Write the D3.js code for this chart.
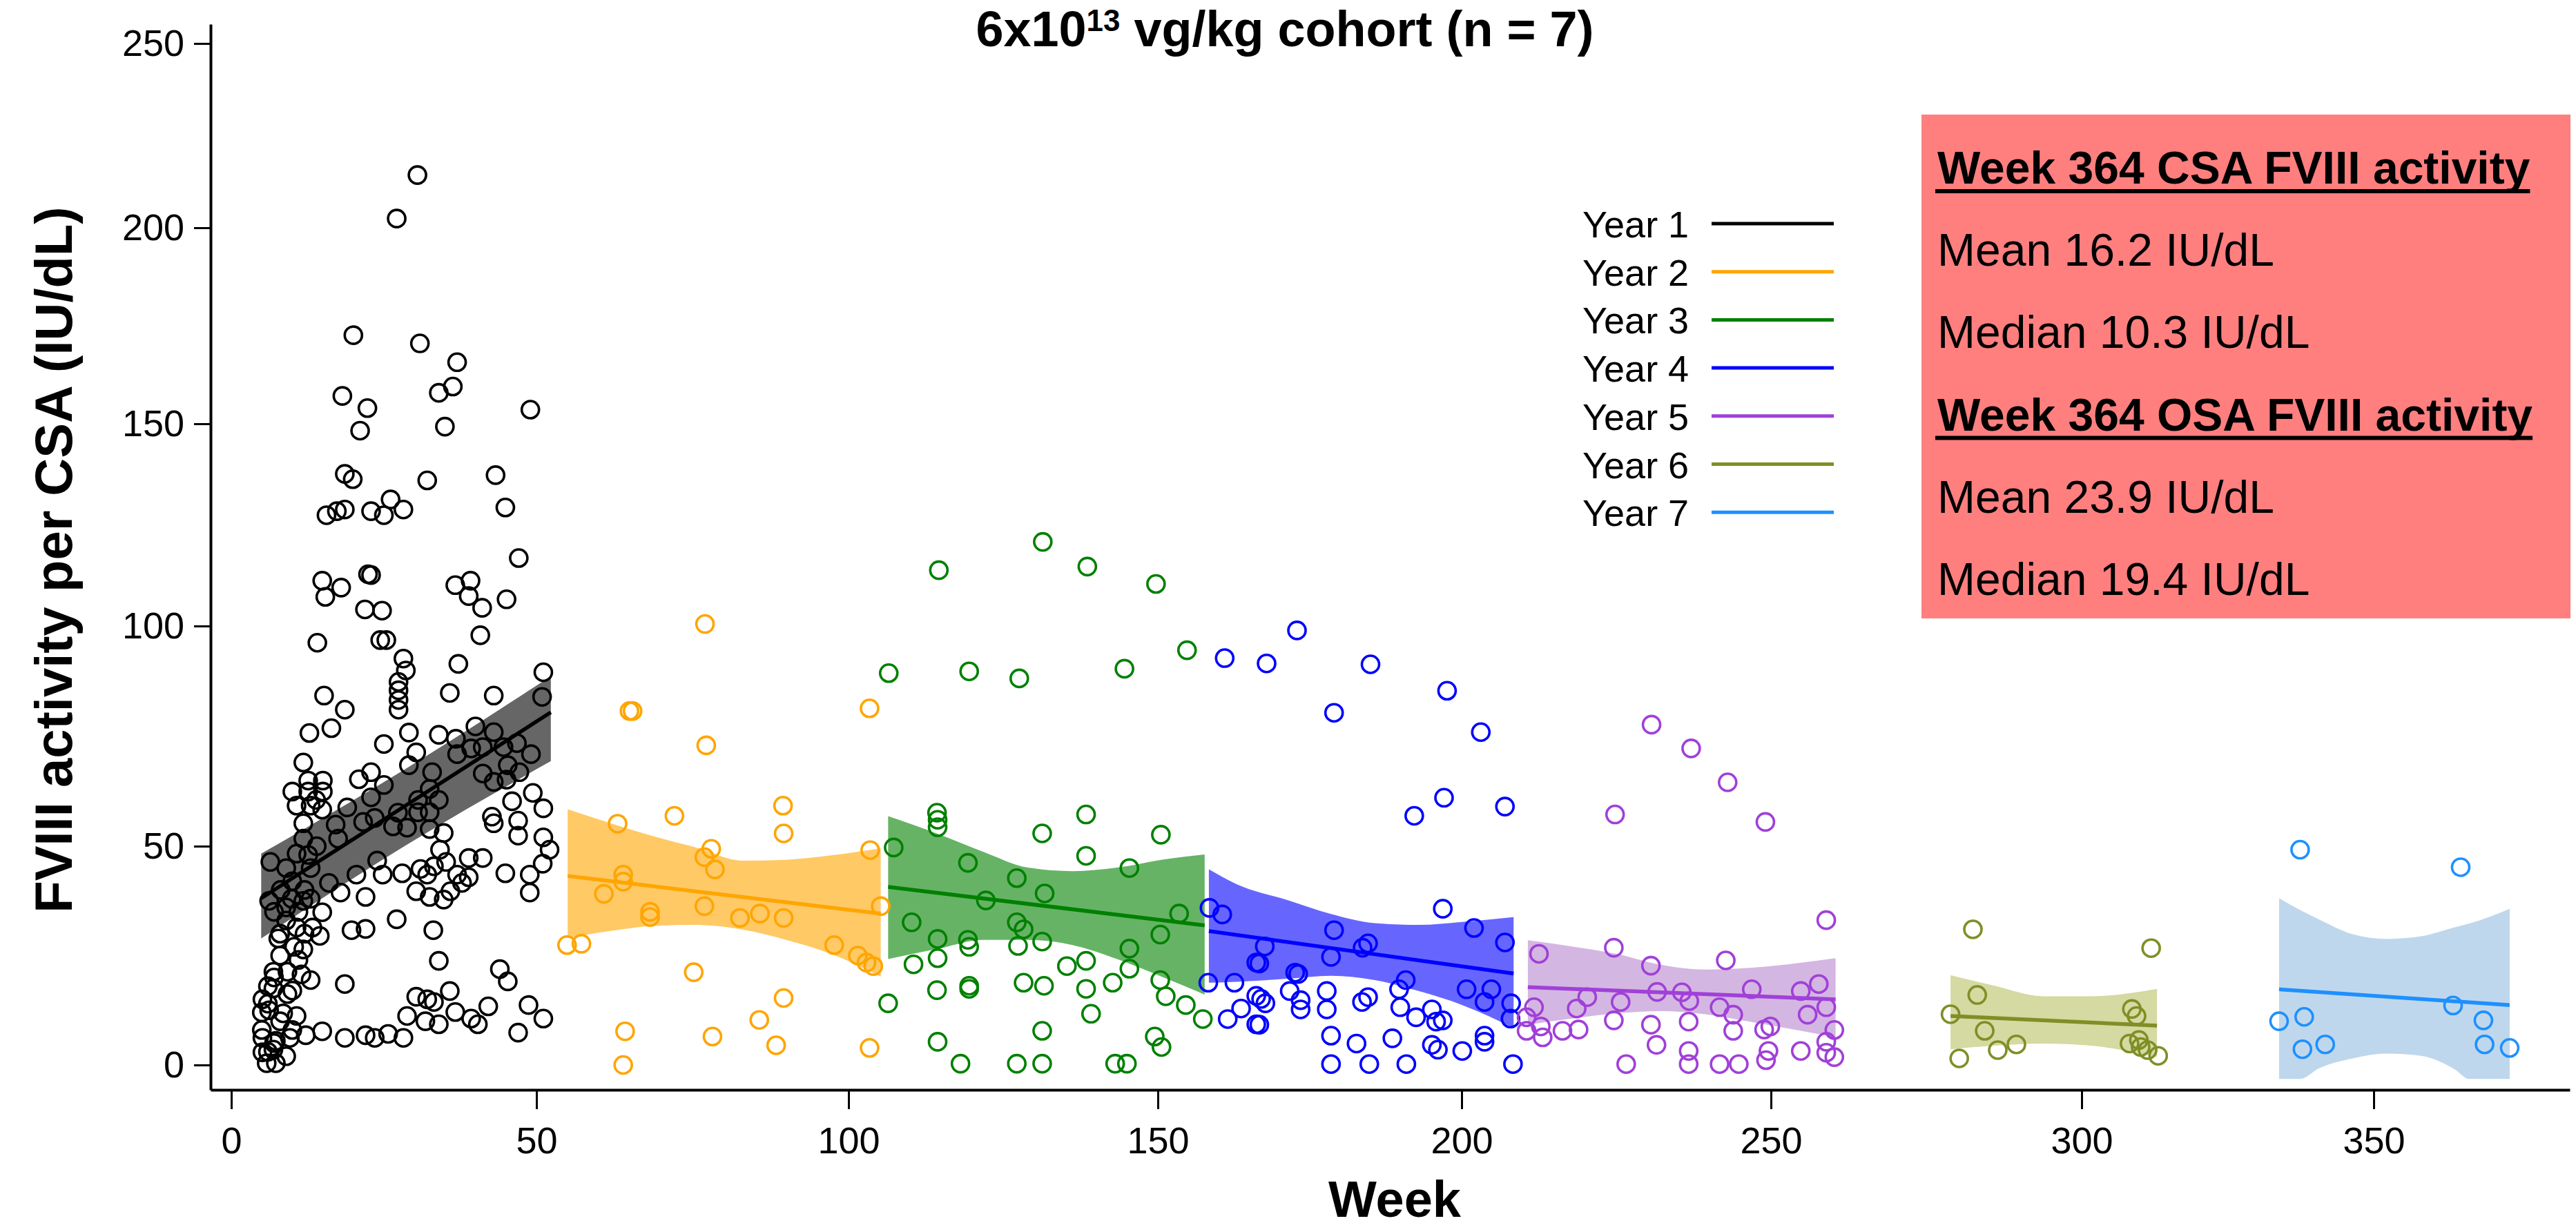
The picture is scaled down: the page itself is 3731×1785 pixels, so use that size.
<!DOCTYPE html>
<html>
<head>
<meta charset="utf-8">
<script src="https://cdn.jsdelivr.net/npm/d3@7"></script>
<style>
  body { margin: 0; background: #fff; }
  text { font-family: "Liberation Sans", Arial, sans-serif; }
</style>
</head>
<body>
<div class="chart"></div>
<script>
// legend / categories
const years = ["Year 1", "Year 2", "Year 3", "Year 4", "Year 5", "Year 6", "Year 7"];
const yearColors = ["#000000", "#FFA500", "#008000", "#0000FF", "#A040D8", "#7F8F25", "#1E90FF"];
const bandColors = ["#666666", "#FFC966", "#66B366", "#6666FF", "#D4B6E2", "#D5D9A2", "#BFD7EC"];

const xTicks = [0, 50, 100, 150, 200, 250, 300, 350];
const yTicks = [0, 50, 100, 150, 200, 250];

// [week, FVIII activity IU/dL]
const year1 = [
  [30.5,214.3],[27.1,202.5],[20.0,172.6],[30.9,170.5],[37.0,165.7],[34.0,157.9],[36.3,159.5],[18.2,157.1],
  [22.3,154.0],[21.1,148.3],[49.0,153.6],[35.0,149.3],[18.6,137.6],[19.9,136.3],[32.1,136.0],[43.3,137.3],
  [15.6,127.4],[17.3,128.4],[18.6,128.8],[22.9,128.4],[25.0,127.4],[26.1,131.3],[28.2,128.8],[44.9,129.3],
  [47.1,116.8],[14.9,111.2],[15.4,107.2],[18.0,109.5],[22.4,112.8],[22.9,112.6],[21.9,104.1],[24.7,103.8],
  [36.7,110.1],[39.2,111.2],[38.9,107.4],[41.1,104.5],[45.1,106.6],[14.1,96.2],[24.4,96.8],[25.4,96.8],
  [28.2,92.6],[28.6,89.9],[40.8,97.9],[37.2,91.4],[51.1,89.5],
  [27.4,87.3],[27.4,85.4],[27.4,83.2],[27.4,81.0],[15.2,84.2],[18.6,81.0],[12.8,75.7],[16.4,76.8],
  [35.8,84.8],[43.0,84.2],[50.9,83.9],[25.0,73.2],[29.1,75.8],[30.3,71.3],[29.1,68.4],[34.0,75.3],
  [36.8,74.4],[40.0,77.2],[43.0,75.9],[11.8,69.0],[37.0,70.9],[39.3,72.2],[41.2,72.5],[44.6,72.5],
  [46.8,73.4],[49.1,70.9],[32.9,66.8],[41.2,66.5],[43.0,64.6],[45.3,68.4],[45.1,65.1],[47.2,66.8],
  [12.6,64.9],[15.0,64.9],[10.0,62.4],[12.6,62.4],[15.0,62.4],[10.7,59.2],[13.0,59.2],[14.9,58.3],
  [13.9,60.5],[20.9,65.2],[22.9,66.8],[25.0,63.9],[22.9,61.1],[19.0,58.8],[11.8,55.2],[11.8,51.7],
  [17.1,54.9],[17.5,51.7],[6.4,46.4],[10.7,48.3],[12.6,48.0],[21.6,55.5],[23.5,56.4],[26.5,54.5],
  [28.8,54.2],[27.3,57.6],[30.6,60.5],[32.5,63.0],[34.0,60.5],[32.5,57.7],[30.6,57.7],[32.5,53.9],
  [34.8,53.0],[34.2,49.2],[42.7,56.7],[43.0,55.2],[46.0,60.2],[49.4,62.1],[51.1,58.6],[47.0,55.8],
  [47.0,52.4],[51.1,52.0],[52.1,49.2],[23.9,46.7],[24.8,43.5],[28.0,43.8],[31.0,44.8],[32.1,43.5],
  [33.2,45.4],[35.2,46.4],[30.3,39.7],[32.5,38.4],[34.8,37.8],[35.9,39.7],[37.8,41.6],[38.9,42.9],
  [38.9,47.3],[41.2,47.3],[37.0,43.5],[16.0,41.6],[17.9,39.4],[20.5,43.5],[22.0,38.4],[7.7,28.9],
  [14.9,34.9],[10.7,31.4],[13.3,31.4],[14.5,29.5],[10.3,27.0],[11.8,26.4],[19.7,30.8],[22.0,31.1],
  [27.1,33.3],[33.1,30.8],[44.9,43.8],[48.9,43.5],[48.9,39.4],[51.0,46.0],[34.0,23.8],[18.6,18.5],
  [44.0,21.9],[45.3,19.1],[6.9,21.3],[9.2,21.3],[11.5,20.7],[13.0,19.4],[5.1,15.0],[6.9,17.5],
  [9.2,16.2],[6.2,12.5],[8.5,11.8],[10.7,11.2],[30.3,15.6],[32.1,15.0],[33.2,14.4],[35.8,16.9],
  [28.8,11.2],[31.8,10.0],[34.0,9.3],[36.7,12.1],[39.3,10.6],[40.4,9.3],[42.1,13.4],[48.7,13.7],
  [51.1,10.6],[47.0,7.4],[5.1,6.2],[7.3,5.5],[9.6,6.2],[12.2,6.8],[14.9,7.7],[18.6,6.2],
  [22.0,6.8],[23.5,6.2],[25.7,7.1],[28.2,6.2],[5.1,2.9],[6.9,3.5],[5.8,0.4],[7.3,0.4],
  [8.1,40.0],[9.9,38.0],[6.2,37.5],[11.8,37.5],[9.0,36.0],[5.0,8.0],[6.0,14.0],[7.0,20.0],
  [8.0,25.0],[9.0,33.0],[10.0,42.0],[7.0,35.0],[9.0,45.0],[12.0,40.0],[5.0,12.0],[6.0,3.0],
  [8.0,10.0],[10.0,17.0],[11.0,24.0],[12.0,30.0],[7.0,5.0],[9.0,2.0],[10.0,8.0],[6.0,18.0],
  [8.0,30.0],[11.0,35.0],[13.0,45.0],[14.0,50.0],[13.0,38.0]
];
const year2 = [
  [77.0,100.5],[64.9,80.7],[65.4,80.7],[103.4,81.3],[77.2,72.9],[63.0,55.1],[72.1,56.9],[89.5,59.2],
  [89.6,52.9],[78.0,49.4],[76.9,47.5],[78.6,44.7],[103.5,49.1],[63.9,43.5],[63.9,41.9],[60.8,39.1],
  [68.2,35.0],[68.2,33.8],[76.9,36.3],[82.6,33.6],[85.8,34.6],[89.6,33.6],[105.2,36.3],[57.2,27.7],
  [54.9,27.4],[97.7,27.4],[101.5,25.0],[102.9,23.4],[104.0,22.6],[75.2,21.2],[89.6,15.3],[85.7,10.3],
  [64.2,7.7],[78.2,6.5],[88.4,4.5],[103.4,3.9],[63.9,0.0]
];
const year3 = [
  [131.4,120.8],[114.6,113.8],[138.6,114.7],[149.7,110.4],[106.5,89.3],[119.5,89.7],[127.6,88.1],[144.6,90.3],
  [154.8,94.5],[114.3,57.6],[114.4,56.0],[114.4,54.3],[138.4,57.2],[131.3,52.9],[150.5,52.6],[107.3,49.7],
  [138.4,47.8],[119.3,46.2],[145.4,45.0],[127.2,42.7],[131.7,39.2],[122.2,37.6],[153.5,34.6],[110.2,32.6],
  [127.2,32.6],[128.3,31.0],[150.4,29.8],[114.4,28.8],[119.3,28.6],[119.5,27.0],[127.4,27.2],[131.3,28.2],
  [145.4,26.6],[110.5,23.0],[114.4,24.4],[135.3,22.6],[138.4,23.8],[145.4,22.0],[142.7,18.8],[114.3,17.1],
  [119.5,18.1],[119.5,17.4],[128.3,18.8],[131.6,18.1],[138.4,17.4],[150.4,19.4],[151.3,15.7],[154.6,13.7],
  [157.4,10.5],[106.4,14.1],[139.2,11.7],[114.4,5.3],[131.3,7.8],[149.5,6.5],[150.6,4.1],[118.1,0.3],
  [127.2,0.3],[131.3,0.3],[143.1,0.3],[145.0,0.3]
];
const year4 = [
  [172.9,99.0],[167.9,91.5],[185.0,91.3],[197.6,85.3],[179.0,80.3],[203.1,75.9],[197.1,61.0],[192.2,56.9],
  [207.0,59.0],[196.9,35.7],[202.0,31.3],[179.0,30.8],[207.0,28.0],[167.6,27.1],[166.7,23.2],[184.6,27.8],
  [183.7,26.8],[178.5,24.7],[172.6,21.1],[173.1,20.8],[190.8,19.4],[200.8,17.3],[204.8,17.3],[203.7,14.4],
  [208.0,14.1],[207.9,10.6],[167.0,15.1],[167.7,14.1],[171.7,16.9],[173.5,14.8],[173.5,12.7],[177.8,16.9],
  [177.8,12.7],[184.6,15.5],[183.6,14.4],[189.7,17.3],[189.9,13.2],[192.5,10.9],[195.1,12.7],[195.8,9.9],
  [196.9,10.2],[166.7,9.2],[178.5,6.7],[182.7,4.9],[188.6,6.1],[195.1,4.6],[196.1,3.5],[200.1,3.2],
  [203.7,6.7],[203.7,5.3],[178.5,0.2],[184.8,0.2],[190.9,0.2],[208.3,0.2],[161.0,92.7],[158.5,35.9],
  [160.6,34.4],[158.3,18.8],[162.6,18.8],[161.5,10.5],[163.7,12.9],[166.2,9.3],[166.2,15.8],[166.2,23.4]
];
const year5 = [
  [230.7,77.6],[237.1,72.2],[243.0,64.5],[224.8,57.2],[249.1,55.5],[258.9,33.1],[212.5,25.4],[224.6,26.8],
  [230.6,22.7],[242.7,23.9],[220.3,15.5],[218.6,12.9],[225.7,14.4],[231.6,16.7],[235.6,16.6],[236.8,14.6],
  [241.7,13.2],[243.9,11.5],[246.9,17.3],[254.8,16.9],[257.7,18.5],[258.9,13.2],[255.9,11.5],[211.7,13.2],
  [210.5,10.9],[210.5,7.8],[212.8,8.8],[213.1,6.3],[216.3,7.8],[218.9,8.1],[224.6,10.2],[230.6,9.2],
  [236.7,9.9],[243.9,7.8],[248.9,8.1],[249.9,8.8],[260.2,8.0],[231.5,4.6],[236.7,3.2],[249.6,3.2],
  [254.8,3.2],[258.9,5.3],[258.9,2.8],[260.2,1.8],[226.6,0.2],[236.7,0.2],[241.7,0.2],[244.8,0.2],
  [249.2,1.1]
];
const year6 = [
  [282.5,31.0],[311.9,26.7],[283.2,16.0],[278.9,11.6],[308.6,12.8],[309.4,11.2],[284.4,7.8],[289.5,4.7],
  [286.5,3.4],[280.3,1.5],[308.2,4.9],[309.8,5.7],[310.1,4.1],[311.3,3.4],[313.1,2.1]
];
const year7 = [
  [337.4,49.2],[364.9,45.2],[333.8,10.0],[338.1,11.0],[337.8,3.6],[341.7,4.7],[363.6,13.6],[368.8,10.2],
  [369.0,4.7],[373.3,3.9]
];
const yearPoints = [year1, year2, year3, year4, year5, year6, year7];

// linear fit per year: start/end week and fitted value
const fitWeeks = [[4.9, 52.3], [55.0, 105.2], [106.4, 157.7], [158.4, 208.4], [210.7, 260.4], [278.9, 312.9], [333.8, 373.3]];
const fitValues = [[38.1, 80.4], [43.2, 34.6], [40.7, 31.9], [30.6, 20.9], [17.8, 15.0], [11.2, 9.0], [17.3, 13.7]];

// confidence band edges per year
const bandWeeks = [
  [4.9, 28.6, 52.3],
  [55.0, 61.7, 68.9, 76.1, 82.8, 90.0, 97.2, 105.2],
  [106.4, 114.6, 121.8, 129.0, 136.2, 143.4, 150.6, 157.7],
  [158.4, 163.0, 171.3, 178.5, 185.7, 192.9, 200.1, 208.4],
  [210.7, 217.8, 225.0, 232.2, 239.4, 246.6, 253.8, 260.4],
  [278.9, 286.0, 293.8, 301.6, 312.9],
  [333.8, 337.4, 340.6, 346.4, 352.3, 358.1, 364.0, 366.3, 373.3]
];
const bandUpper = [
  [48.3, 67.6, 88.6],
  [58.4, 55.3, 52.2, 49.5, 46.7, 46.9, 47.9, 49.5],
  [56.8, 52.7, 48.7, 45.1, 44.3, 45.1, 46.9, 48.1],
  [44.7, 41.3, 37.7, 34.5, 32.4, 32.0, 32.7, 33.8],
  [28.5, 27.1, 25.4, 22.9, 21.8, 22.2, 23.2, 24.4],
  [20.5, 18.1, 15.7, 15.7, 17.4],
  [38.1, 35.4, 33.3, 29.9, 28.8, 29.4, 31.5, 32.3, 35.7]
];
const bandLower = [
  [28.9, 50.2, 69.3],
  [29.0, 30.6, 31.8, 32.0, 31.0, 28.6, 25.4, 20.2],
  [24.2, 26.6, 28.6, 28.6, 27.4, 24.2, 20.2, 16.1],
  [18.8, 19.0, 19.7, 20.4, 19.4, 16.9, 13.7, 8.5],
  [9.2, 10.6, 11.8, 12.3, 11.6, 9.9, 8.1, 6.3],
  [3.6, 4.4, 4.9, 4.4, 1.8],
  [-3.2, -3.2, -0.8, 1.5, 2.6, 2.1, -1.1, -3.2, -3.2]
];

const boxLines = [
  "Week 364 CSA FVIII activity", "Mean 16.2 IU/dL", "Median 10.3 IU/dL",
  "Week 364 OSA FVIII activity", "Mean 23.9 IU/dL", "Median 19.4 IU/dL"
];
const boxHeading = [true, false, false, true, false, false];

let svgWidth = 3731;
let svgHeight = 1785;

let svg = d3.select(".chart")
  .append("svg")
  .attr("width", svgWidth)
  .attr("height", svgHeight)
  .style("display", "block");

// tick positions in the figure are not evenly spaced, so map them piecewise
let x = d3.scaleLinear()
  .domain([-3.4, 0, 50, 100, 150, 200, 250, 300, 350, 383.6])
  .range([305, 335, 777, 1229, 1677, 2117, 2565, 3015, 3438, 3722]);

let y = d3.scaleLinear()
  .domain([-5.7, 0, 50, 100, 150, 200, 250, 255.2])
  .range([1579, 1543, 1226, 907, 614, 330, 63, 35]);

// bands
let area = d3.area()
  .x(d => x(d[0]))
  .y0(d => y(d[1]))
  .y1(d => y(d[2]))
  .curve(d3.curveMonotoneX);

bandWeeks.forEach(function(weeks, i) {
  let pts = weeks.map((w, j) => [w, bandLower[i][j], bandUpper[i][j]]);
  svg.append("path")
    .attr("d", area(pts))
    .attr("fill", bandColors[i]);
});

// points
yearPoints.forEach(function(pts, i) {
  svg.append("g")
    .selectAll("circle")
    .data(pts)
    .enter().append("circle")
      .attr("cx", d => x(d[0]))
      .attr("cy", d => y(d[1]))
      .attr("r", 12.5)
      .attr("fill", "none")
      .attr("stroke", yearColors[i])
      .attr("stroke-width", 3.6);
});

// fit lines
let line = d3.line().x(d => x(d[0])).y(d => y(d[1]));
fitWeeks.forEach(function(weeks, i) {
  svg.append("path")
    .attr("d", line([[weeks[0], fitValues[i][0]], [weeks[1], fitValues[i][1]]]))
    .attr("fill", "none")
    .attr("stroke", yearColors[i])
    .attr("stroke-width", 5.5);
});

// axes
let xAxis = svg.append("g")
  .attr("transform", "translate(0,1579)")
  .call(d3.axisBottom(x).tickValues(xTicks).tickSize(28).tickSizeOuter(0).tickPadding(26));

let yAxis = svg.append("g")
  .attr("transform", "translate(305,0)")
  .call(d3.axisLeft(y).tickValues(yTicks).tickSize(24).tickSizeOuter(0).tickPadding(14));

[xAxis, yAxis].forEach(function(ax) {
  ax.attr("font-size", 54).attr("font-family", "'Liberation Sans', Arial, sans-serif");
  ax.select(".domain").attr("stroke", "#000").attr("stroke-width", 4);
  ax.selectAll(".tick line").attr("stroke", "#000").attr("stroke-width", 3);
  ax.selectAll(".tick text").attr("fill", "#000");
});

// title
let title = svg.append("text")
  .attr("x", 1861)
  .attr("y", 67)
  .attr("text-anchor", "middle")
  .style("font-size", "72px")
  .style("font-weight", "bold");
title.append("tspan").text("6x10");
title.append("tspan").attr("dy", -22).style("font-size", "44px").text("13");
title.append("tspan").attr("dy", 22).text(" vg/kg cohort (n = 7)");

// axis titles
svg.append("text")
  .attr("transform", "translate(104,811) rotate(-90)")
  .attr("text-anchor", "middle")
  .style("font-size", "76px")
  .style("font-weight", "bold")
  .text("FVIII activity per CSA (IU/dL)");

svg.append("text")
  .attr("x", 2020)
  .attr("y", 1763)
  .attr("text-anchor", "middle")
  .style("font-size", "74px")
  .style("font-weight", "bold")
  .text("Week");

// legend
let legend = svg.append("g").attr("transform", "translate(2292,324)");
years.forEach(function(name, i) {
  let row = legend.append("g").attr("transform", `translate(0, ${i * 69.7})`);
  row.append("text")
    .attr("x", 0)
    .attr("y", 20)
    .style("font-size", "54px")
    .text(name);
  row.append("line")
    .attr("x1", 187).attr("x2", 364)
    .attr("y1", 0).attr("y2", 0)
    .attr("stroke", yearColors[i])
    .attr("stroke-width", 5);
});

// summary box
svg.append("rect")
  .attr("x", 2783)
  .attr("y", 166)
  .attr("width", 940)
  .attr("height", 730)
  .attr("fill", "#FF7F7F");

boxLines.forEach(function(txt, i) {
  let t = svg.append("text")
    .attr("x", 2806)
    .attr("y", 266 + i * 119.2)
    .style("font-size", "66px")
    .style("font-weight", boxHeading[i] ? "bold" : "normal")
    .text(txt);
  if (boxHeading[i]) {
    let len = t.node().getComputedTextLength();
    svg.append("line")
      .attr("x1", 2803).attr("x2", 2806 + len)
      .attr("y1", 266 + i * 119.2 + 11).attr("y2", 266 + i * 119.2 + 11)
      .attr("stroke", "#000")
      .attr("stroke-width", 6);
  }
});
</script>
</body>
</html>
